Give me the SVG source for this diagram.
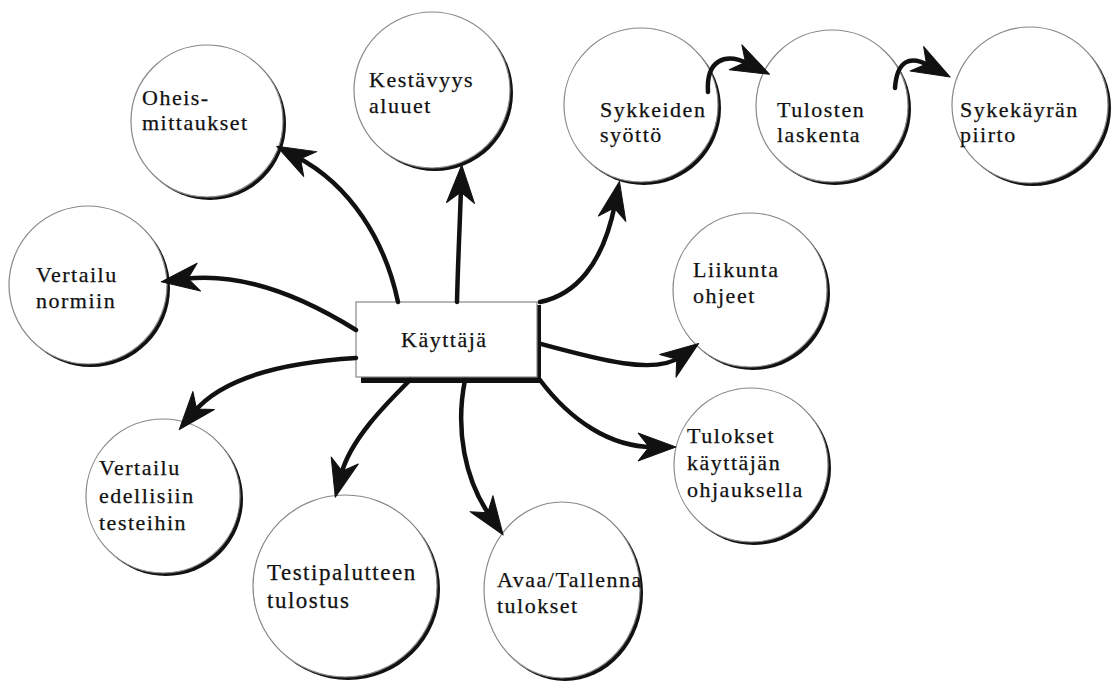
<svg xmlns="http://www.w3.org/2000/svg" width="1113" height="682" viewBox="0 0 1113 682">
<style>
.sh{fill:#111}
.c{fill:#fff;stroke:#888;stroke-width:1.2}
.t{font-family:"Liberation Serif","Times New Roman",serif;font-size:22px;letter-spacing:1.5px;fill:#111;stroke:#111;stroke-width:0.25}
.e{fill:none;stroke:#111;stroke-width:4.5;stroke-linecap:round}
</style>
<defs>
<marker id="ah" markerUnits="userSpaceOnUse" viewBox="-20 -18 46 36" markerWidth="46" markerHeight="36" refX="0" refY="0" orient="auto">
<path d="M23,0 L-15,-14 L-4,0 L-15,14 Z" fill="#111" stroke="#111" stroke-width="1" stroke-linejoin="round"/>
</marker>
</defs>
<rect width="1113" height="682" fill="#fff"/>

<g id="oheis">
<circle class="sh" cx="210" cy="124" r="76"/><circle class="c" cx="207" cy="121" r="76"/>
<text class="t" x="142" y="105">Oheis-</text><text class="t" x="142" y="130">mittaukset</text>
</g>
<g id="kestavyys">
<circle class="sh" cx="435" cy="93" r="78"/><circle class="c" cx="432" cy="90" r="78"/>
<text class="t" x="369" y="87">Kestävyys</text><text class="t" x="369" y="113">aluuet</text>
</g>
<g id="sykkeiden">
<circle class="sh" cx="644" cy="108" r="77"/><circle class="c" cx="641" cy="105" r="77"/>
<text class="t" x="600" y="117">Sykkeiden</text><text class="t" x="600" y="142">syöttö</text>
</g>
<g id="tulosten">
<circle class="sh" cx="835" cy="109" r="76"/><circle class="c" cx="832" cy="106" r="76"/>
<text class="t" x="777" y="117">Tulosten</text><text class="t" x="777" y="142">laskenta</text>
</g>
<g id="sykekayran">
<circle class="sh" cx="1033" cy="108" r="78"/><circle class="c" cx="1030" cy="105" r="78"/>
<text class="t" x="960" y="117">Sykekäyrän</text><text class="t" x="960" y="142">piirto</text>
</g>
<g id="normiin">
<circle class="sh" cx="91" cy="288" r="79"/><circle class="c" cx="88" cy="285" r="79"/>
<text class="t" x="36" y="282">Vertailu</text><text class="t" x="36" y="308">normiin</text>
</g>
<g id="liikunta">
<circle class="sh" cx="753" cy="293" r="77"/><circle class="c" cx="750" cy="290" r="77"/>
<text class="t" x="693" y="277">Liikunta</text><text class="t" x="693" y="303">ohjeet</text>
</g>
<g id="tulokset">
<circle class="sh" cx="754" cy="468" r="77"/><circle class="c" cx="751" cy="465" r="77"/>
<text class="t" x="687" y="443">Tulokset</text><text class="t" x="687" y="470">käyttäjän</text><text class="t" x="687" y="497">ohjauksella</text>
</g>
<g id="edellisiin">
<circle class="sh" cx="166" cy="499" r="77"/><circle class="c" cx="163" cy="496" r="77"/>
<text class="t" x="99" y="475">Vertailu</text><text class="t" x="99" y="503">edellisiin</text><text class="t" x="99" y="530">testeihin</text>
</g>
<g id="testipalaute">
<ellipse class="sh" cx="348" cy="589" rx="92" ry="91"/><ellipse class="c" cx="345" cy="586" rx="92" ry="91"/>
<text class="t" x="267" y="580" style="font-size:23px">Testipalutteen</text><text class="t" x="267" y="608" style="font-size:23px">tulostus</text>
</g>
<g id="avaa">
<ellipse class="sh" cx="565" cy="593" rx="78" ry="88"/><ellipse class="c" cx="562" cy="590" rx="78" ry="88"/>
<text class="t" x="497" y="587">Avaa/Tallenna</text><text class="t" x="497" y="613">tulokset</text>
</g>
<g id="kayttaja">
<rect x="361" y="305" width="180" height="78" fill="#111"/>
<rect x="356" y="302" width="181" height="75" fill="#fff" stroke="#888" stroke-width="1.2"/>
<text class="t" x="401" y="347">Käyttäjä</text>
</g>

<g id="connectors">
<path class="e" marker-end="url(#ah)" d="M398,302 C385,240 350,185 297,157"/>
<path class="e" marker-end="url(#ah)" d="M457,302 C458,260 460,220 461,188"/>
<path class="e" marker-end="url(#ah)" d="M540,302 C575,295 603,265 615,204"/>
<path class="e" marker-end="url(#ah)" d="M356,330 C300,295 240,272 184,279"/>
<path class="e" marker-end="url(#ah)" d="M356,358 C290,362 225,375 194,412"/>
<path class="e" marker-end="url(#ah)" d="M410,380 C385,405 350,440 341,475"/>
<path class="e" marker-end="url(#ah)" d="M465,380 C455,430 465,480 490,516"/>
<path class="e" marker-end="url(#ah)" d="M540,380 C570,420 610,447 653,447"/>
<path class="e" marker-end="url(#ah)" d="M541,344 C600,360 655,375 680,357"/>
<path class="e" marker-end="url(#ah)" d="M708,92 C706,60 725,52 749,64"/>
<path class="e" marker-end="url(#ah)" d="M895,88 C897,60 910,55 930,66"/>
</g>
</svg>
